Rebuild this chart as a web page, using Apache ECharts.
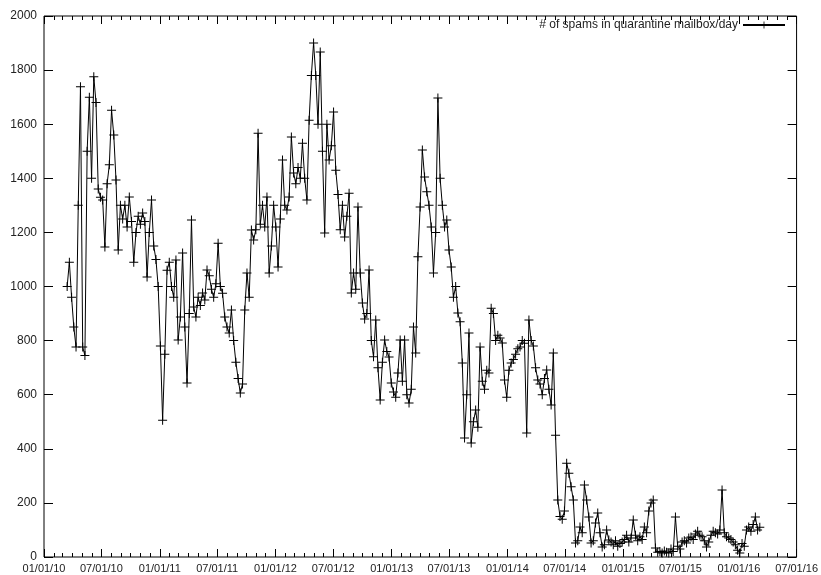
<!DOCTYPE html>
<html>
<head>
<meta charset="utf-8">
<script src="https://cdn.jsdelivr.net/npm/echarts@6/dist/echarts.min.js"></script>
<style>
  html, body { margin: 0; padding: 0; background: #fff; }
  #chart { width: 821px; height: 575px; }
</style>
</head>
<body>
<div id="chart"></div>
<script>
// Weekly samples of the quarantine mailbox size, starting on the first sample date.
const firstSample = '2010-03-15';
const sampleStepDays = 7;
const spamsPerDay = [
  1000, 1090, 960, 850, 776, 1300, 1738, 776, 745, 1500,
  1700, 1400, 1775, 1680, 1360, 1330, 1320, 1146, 1380, 1450,
  1652, 1560, 1394, 1135, 1300, 1250, 1300, 1220, 1331, 1240,
  1090, 1200, 1260, 1230, 1272, 1240, 1035, 1200, 1320, 1150,
  1100, 1000, 780, 506, 750, 1060, 1090, 1000, 960, 1098,
  802, 887, 1124, 850, 643, 900, 1246, 924, 887, 960,
  930, 976, 950, 1061, 1040, 990, 960, 1010, 1160, 1000,
  975, 887, 850, 828, 913, 800, 720, 660, 606, 640,
  913, 1050, 960, 1209, 1172, 1210, 1567, 1230, 1300, 1220,
  1331, 1050, 1150, 1300, 1220, 1072, 1250, 1468, 1300, 1283,
  1331, 1553, 1420, 1380, 1440, 1400, 1530, 1400, 1320, 1615,
  1780, 1900, 1780, 1600, 1867, 1500, 1198, 1600, 1468, 1520,
  1645, 1430, 1340, 1210, 1300, 1183, 1260, 1345, 976, 1050,
  990, 1294, 1050, 939, 880, 900, 1061, 800, 740, 876,
  700, 580, 720, 802, 760, 739, 643, 610, 591, 680,
  802, 650, 802, 600, 569, 620, 850, 754, 1110, 1294,
  1505, 1405, 1350, 1300, 1220, 1050, 1200, 1697, 1400, 1300,
  1220, 1246, 1135, 1072, 960, 1000, 902, 870, 717, 440,
  600, 828, 421, 500, 543, 480, 776, 650, 620, 690,
  680, 920, 900, 800, 820, 810, 791, 654, 591, 690,
  717, 730, 750, 770, 776, 800, 790, 458, 876, 800,
  780, 700, 654, 640, 600, 660, 691, 620, 562, 754,
  450, 211, 150, 140, 170, 347, 310, 260, 211, 52,
  60, 111, 90, 266, 211, 148, 52, 60, 126, 163,
  90, 37, 45, 100, 63, 55, 45, 60, 40, 50,
  55, 65, 80, 55, 70, 137, 80, 60, 75, 65,
  111, 90, 170, 200, 211, 33, 18, 20, 15, 22,
  18, 15, 30, 20, 148, 40, 30, 55, 60, 52,
  70, 74, 65, 85, 95, 80, 75, 60, 37, 55,
  80, 95, 90, 85, 100, 248, 90, 75, 70, 65,
  55, 45, 25, 15, 50, 40, 100, 111, 95, 120,
  148, 100, 110
];

// Axis ranges and tick positions
const xStart = '2010-01-01';
const xEnd = '2016-07-01';
const majorTickDates = [
  '2010-01-01', '2010-07-01', '2011-01-01', '2011-07-01', '2012-01-01',
  '2012-07-01', '2013-01-01', '2013-07-01', '2014-01-01', '2014-07-01',
  '2015-01-01', '2015-07-01', '2016-01-01', '2016-07-01'
];
const yMin = 0, yMax = 2000, yStep = 200;
const seriesName = '# of spams in quarantine mailbox/day';

const DAY = 86400000;
const utc = s => { const p = s.split('-').map(Number); return Date.UTC(p[0], p[1] - 1, p[2]); };
const pad = n => (n < 10 ? '0' : '') + n;
const fmtDate = v => {
  const d = new Date(v);
  return pad(d.getUTCMonth() + 1) + '/' + pad(d.getUTCDate()) + '/' + pad(d.getUTCFullYear() % 100);
};

const majorTicks = majorTickDates.map(utc);
// monthly minor ticks between the half-year marks
const minorTicks = [];
for (let y = 2010; y <= 2016; y++) {
  for (let m = 0; m < 12; m++) {
    const t = Date.UTC(y, m, 1);
    if (t > utc(xEnd)) break;
    if (m % 6 !== 0) minorTicks.push(t);
  }
}

const t0 = utc(firstSample);
const seriesData = spamsPerDay.map((v, i) => [t0 + i * sampleStepDays * DAY, v]);

const font = 'Liberation Sans, Arial, sans-serif';
const textColor = '#222';

function xAxisDef(pos, ticks, len, withLabels) {
  return {
    type: 'value', position: pos, min: utc(xStart), max: utc(xEnd),
    axisLine: { show: false },
    splitLine: { show: false },
    axisTick: { show: true, inside: true, length: len, customValues: ticks,
                lineStyle: { color: '#000', width: 1 } },
    axisLabel: withLabels
      ? { show: true, customValues: ticks, formatter: fmtDate, color: textColor,
          fontFamily: font, fontSize: 11, margin: 6 }
      : { show: false }
  };
}
function yAxisDef(pos, withLabels) {
  return {
    type: 'value', position: pos, min: yMin, max: yMax, interval: yStep,
    axisLine: { show: false },
    splitLine: { show: false },
    axisTick: { show: true, inside: true, length: 9, lineStyle: { color: '#000', width: 1 } },
    axisLabel: withLabels
      ? { show: true, color: textColor, fontFamily: font, fontSize: 12, margin: 7,
          formatter: v => String(v) }
      : { show: false }
  };
}

// thin "+" marker, 9x9 with one-unit strokes
const plus = 'path://M4,0h1v4h4v1h-4v4h-1v-4h-4v-1h4z';

const chart = echarts.init(document.getElementById('chart'), null, { renderer: 'canvas' });
chart.setOption({
  animation: false,
  backgroundColor: '#fff',
  grid: { left: 44, right: 23, top: 16, bottom: 18, show: true,
          borderColor: '#000', borderWidth: 1, backgroundColor: 'transparent' },
  legend: {
    data: [seriesName], right: 30, top: 14, align: 'right',
    itemWidth: 42, itemHeight: 9, itemGap: 4,
    textStyle: { color: textColor, fontFamily: font, fontSize: 12, padding: [0, 0, 0, 0] }
  },
  xAxis: [
    xAxisDef('bottom', majorTicks, 8, true),
    xAxisDef('bottom', minorTicks, 4, false),
    xAxisDef('top', majorTicks, 8, false),
    xAxisDef('top', minorTicks, 4, false)
  ],
  yAxis: [yAxisDef('left', true), yAxisDef('right', false)],
  series: [{
    name: seriesName,
    type: 'line',
    xAxisIndex: 0, yAxisIndex: 0,
    data: seriesData,
    symbol: plus, symbolSize: 9, showAllSymbol: true,
    itemStyle: { color: '#000' },
    lineStyle: { color: '#000', width: 1 },
    emphasis: { disabled: true }
  }]
});
</script>
</body>
</html>
